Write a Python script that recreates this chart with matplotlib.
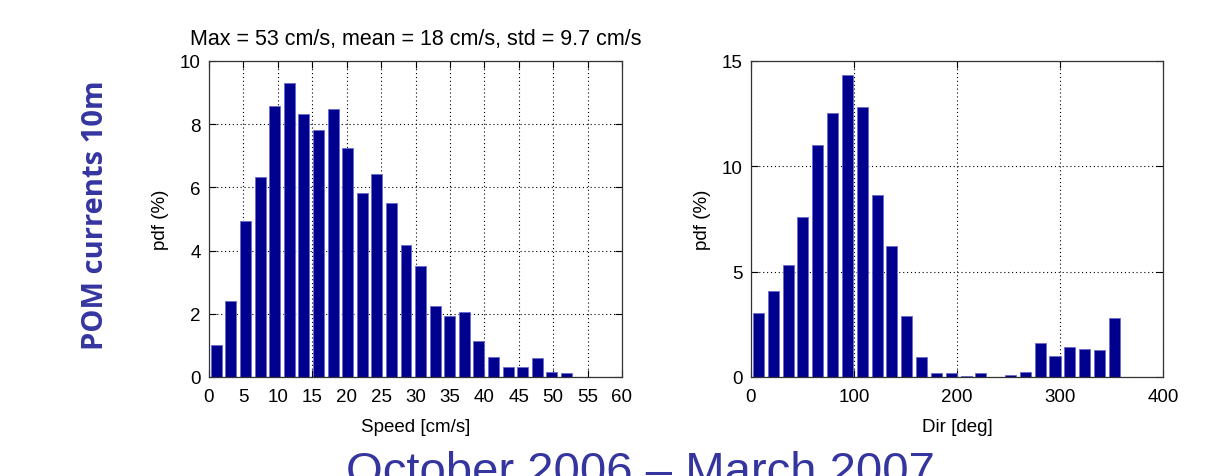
import numpy as np
import matplotlib
matplotlib.use("Agg")
import matplotlib.pyplot as plt

# speed histogram (25 bins between 0 and 53 cm/s)
speed_pdf = [1.0, 2.4, 4.95, 6.33, 8.58, 9.3, 8.31, 7.82, 8.47, 7.26, 5.83, 6.41, 5.5,
             4.19, 3.5, 2.26, 1.94, 2.07, 1.13, 0.64, 0.31, 0.31, 0.6, 0.15, 0.12]
speed_max = 53
speed_ticks = list(range(0, 61, 5))

# direction histogram (25 bins between 0 and 360 deg)
dir_pdf = [3.05, 4.07, 5.34, 7.58, 11.02, 12.53, 14.34, 12.81, 8.66, 6.22, 2.89, 0.94,
           0.17, 0.17, 0.06, 0.17, 0.0, 0.11, 0.25, 1.62, 0.99, 1.43, 1.34, 1.29, 2.8]
dir_max = 360
dir_ticks = [0, 100, 200, 300, 400]

title_txt = "Max = 53 cm/s, mean = 18 cm/s, std = 9.7 cm/s"
side_txt = "POM currents 10m"
period_txt = "October 2006 \u2013 March 2007"

bar_col = "#00008f"
blue_txt = "#3535a0"

plt.rcParams["font.family"] = ["Liberation Sans", "DejaVu Sans"]

fig = plt.figure(figsize=(12.07, 4.77), dpi=100)


def hist_panel(rect, vals, vmax, xticks, yticks, xlabel):
    ax = fig.add_axes(rect)
    n = len(vals)
    edges = np.linspace(0, vmax, n + 1)
    centers = (edges[:-1] + edges[1:]) / 2
    w = edges[1] - edges[0]
    ax.bar(centers, vals, width=0.75 * w, color=bar_col, edgecolor="#6a6ad0",
           linewidth=0.6, zorder=2)
    ax.set_xlim(xticks[0], xticks[-1])
    ax.set_ylim(yticks[0], yticks[-1])
    ax.set_xticks(xticks)
    ax.set_yticks(yticks)
    ax.grid(True, linestyle=(0, (1, 2.5)), color="black", linewidth=0.8, zorder=1)
    ax.set_axisbelow(True)
    ax.tick_params(direction="in", length=5, top=True, right=True, labelsize=13.5)
    ax.tick_params(axis="x", pad=8)
    ax.tick_params(axis="y", pad=6)
    for s in ax.spines.values():
        s.set_linewidth(0.9)
        s.set_color("#333333")
    ax.set_ylabel("pdf (%)", fontsize=13.5, labelpad=8)
    ax.set_xlabel(xlabel, fontsize=13.5, labelpad=9)
    return ax


ax1 = hist_panel([209 / 1207, 1 - 378 / 477, 413 / 1207, 316 / 477],
                 speed_pdf, speed_max, speed_ticks, [0, 2, 4, 6, 8, 10], "Speed [cm/s]")
ax1.set_title(title_txt, fontsize=15.5, pad=12)

ax2 = hist_panel([751 / 1207, 1 - 378 / 477, 412 / 1207, 316 / 477],
                 dir_pdf, dir_max, dir_ticks, [0, 5, 10, 15], "Dir [deg]")

fig.text(96 / 1207, 1 - 215 / 477, side_txt, rotation=90, ha="center", va="center",
         fontsize=21, fontweight="bold", color=blue_txt, family=["Open Sans", "DejaVu Sans"])
fig.text(640 / 1207, -8 / 477, period_txt, ha="center", va="baseline",
         fontsize=34, color=blue_txt)

fig.savefig("out.png", dpi=100)
